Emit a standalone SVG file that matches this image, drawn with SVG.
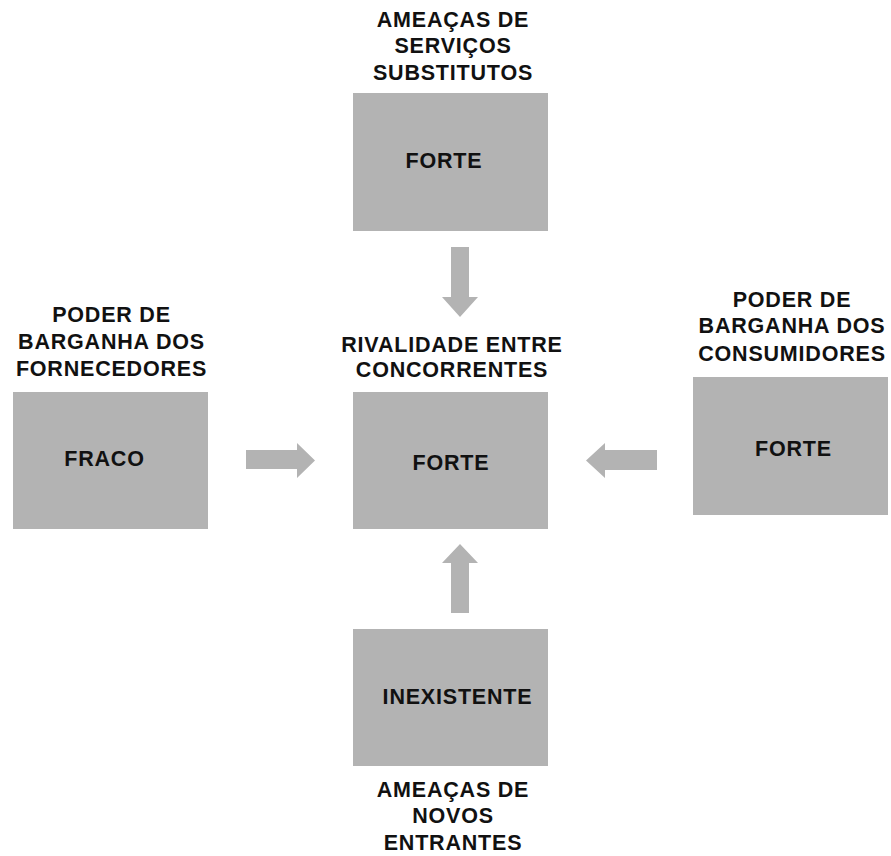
<svg xmlns="http://www.w3.org/2000/svg" width="891" height="856" viewBox="0 0 891 856">
<style>
.box{fill:#b3b3b3}
.arr{fill:#b3b3b3}
text{font-family:"Liberation Sans",Arial,sans-serif;font-weight:bold;font-size:21.5px;letter-spacing:0.8px;fill:#111;text-anchor:middle}
</style>
<rect width="891" height="856" fill="#fff"/>
<g id="substitutos">
<text x="453" y="27">AMEAÇAS DE</text>
<text x="453" y="53">SERVIÇOS</text>
<text x="453" y="80">SUBSTITUTOS</text>
<rect class="box" x="353" y="93" width="195" height="138"/>
<text x="444" y="168">FORTE</text>
</g>
<g id="fornecedores">
<text x="111.5" y="322">PODER DE</text>
<text x="111.5" y="349">BARGANHA DOS</text>
<text x="111.5" y="376">FORNECEDORES</text>
<rect class="box" x="13" y="392" width="195" height="137"/>
<text x="104.5" y="466">FRACO</text>
</g>
<g id="rivalidade">
<text x="452" y="352">RIVALIDADE ENTRE</text>
<text x="452" y="377">CONCORRENTES</text>
<rect class="box" x="353" y="392" width="195" height="137"/>
<text x="451" y="470">FORTE</text>
</g>
<g id="consumidores">
<text x="792" y="307">PODER DE</text>
<text x="792" y="333">BARGANHA DOS</text>
<text x="792" y="361">CONSUMIDORES</text>
<rect class="box" x="693" y="377" width="195" height="138"/>
<text x="793.5" y="456">FORTE</text>
</g>
<g id="novos">
<rect class="box" x="353" y="629" width="195" height="137"/>
<text x="457.5" y="704">INEXISTENTE</text>
<text x="453" y="797">AMEAÇAS DE</text>
<text x="453" y="823">NOVOS</text>
<text x="453" y="850">ENTRANTES</text>
</g>
<g id="connectors">
<polygon class="arr" points="451,247 469,247 469,297 478,297 460,317 442,297 451,297"/>
<polygon class="arr" points="451,613 469,613 469,563 478,563 460,544 442,563 451,563"/>
<polygon class="arr" points="246,450 297,450 297,443 315,460.5 297,478 297,469 246,469"/>
<polygon class="arr" points="657,450 605,450 605,443 586,460.5 605,478 605,470 657,470"/>
</g>
</svg>
